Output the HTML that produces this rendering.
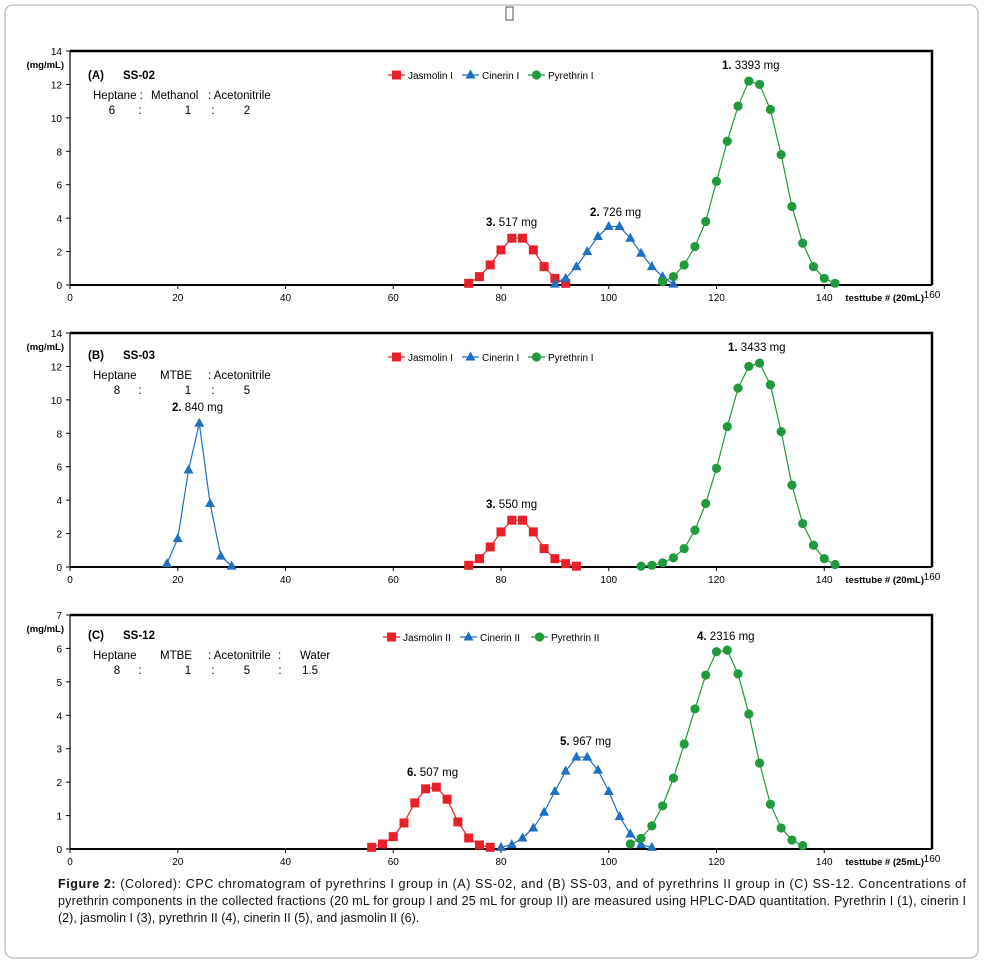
<!DOCTYPE html>
<html><head><meta charset="utf-8"><style>
body{margin:0;background:#fff;}
svg{display:block;font-family:"Liberation Sans",sans-serif;}
</style></head><body>
<svg id="fig" width="985" height="965" viewBox="0 0 985 965">
<rect x="5" y="5" width="973" height="953" rx="8" fill="#fff" stroke="#aaa"/>
<rect x="506" y="7" width="7" height="13" fill="none" stroke="#555"/>
<g id="plots"></g>
<g font-size="12.5" fill="#111">
<text x="58" y="888" textLength="908" lengthAdjust="spacing"><tspan font-weight="bold">Figure 2:</tspan> (Colored): CPC chromatogram of pyrethrins I group in (A) SS-02, and (B) SS-03, and of pyrethrins II group in (C) SS-12. Concentrations of</text>
<text x="58" y="905" textLength="908" lengthAdjust="spacing">pyrethrin components in the collected fractions (20 mL for group I and 25 mL for group II) are measured using HPLC-DAD quantitation. Pyrethrin I (1), cinerin I</text>
<text x="58" y="922">(2), jasmolin I (3), pyrethrin II (4), cinerin II (5), and jasmolin II (6).</text>
</g>
</svg>
<script>
const xTicks=[0,20,40,60,80,100,120,140];
const aJasX=[74,76,78,80,82,84,86,88,90,92];
const aJasY=[0.1,0.5,1.2,2.1,2.8,2.8,2.1,1.1,0.4,0.1];
const aCinX=[90,92,94,96,98,100,102,104,106,108,110,112];
const aCinY=[0.05,0.4,1.1,2.0,2.9,3.5,3.5,2.8,1.9,1.1,0.5,0.05];
const aPyrX=[110,112,114,116,118,120,122,124,126,128,130,132,134,136,138,140,142];
const aPyrY=[0.2,0.5,1.2,2.3,3.8,6.2,8.6,10.7,12.2,12.0,10.5,7.8,4.7,2.5,1.1,0.4,0.1];
const bJasX=[74,76,78,80,82,84,86,88,90,92,94];
const bJasY=[0.1,0.5,1.2,2.1,2.8,2.8,2.1,1.1,0.5,0.2,0.05];
const bCinX=[18,20,22,24,26,28,30];
const bCinY=[0.2,1.7,5.8,8.6,3.8,0.65,0.05];
const bPyrX=[106,108,110,112,114,116,118,120,122,124,126,128,130,132,134,136,138,140,142];
const bPyrY=[0.05,0.1,0.25,0.55,1.1,2.2,3.8,5.9,8.4,10.7,12.0,12.2,10.9,8.1,4.9,2.6,1.3,0.5,0.15];
const cJasX=[56,58,60,62,64,66,68,70,72,74,76,78];
const cJasY=[0.05,0.15,0.37,0.78,1.38,1.8,1.85,1.49,0.81,0.33,0.12,0.05];
const cCinX=[80,82,84,86,88,90,92,94,96,98,100,102,104,106,108];
const cCinY=[0.05,0.13,0.33,0.63,1.1,1.72,2.33,2.75,2.75,2.36,1.72,0.97,0.45,0.13,0.05];
const cPyrX=[104,106,108,110,112,114,116,118,120,122,124,126,128,130,132,134,136];
const cPyrY=[0.15,0.32,0.69,1.29,2.12,3.14,4.19,5.2,5.9,5.95,5.24,4.04,2.57,1.34,0.63,0.27,0.1];

const NS="http://www.w3.org/2000/svg";
const root=document.getElementById('plots');
const RED="#e8202a",BLUE="#1f70c0",GREEN="#1f9a3c";
function mk(tag,attrs,parent){const e=document.createElementNS(NS,tag);for(const k in attrs)e.setAttribute(k,attrs[k]);(parent||root).appendChild(e);return e;}
function txt(x,y,s,parent,extra){const t=mk('text',Object.assign({x:x,y:y},extra||{}),parent);t.textContent=s;return t;}
function marker(kind,cx,cy,color,g){
  let m;
  if(kind==='sq') m=mk('rect',{x:cx-4.5,y:cy-4.5,width:9,height:9,fill:color},g);
  else if(kind==='tri') m=mk('polygon',{points:(cx)+','+(cy-5.5)+' '+(cx-5)+','+(cy+3.5)+' '+(cx+5)+','+(cy+3.5),fill:color},g);
  else m=mk('circle',{cx:cx,cy:cy,r:4.6,fill:color},g);
  return m;
}
function panel(cfg){
  const g=mk('g',{});
  
  
  const X0=70,X1=932,Y0=cfg.y0,Y1=cfg.y1;
  const sx=v=>X0+(v/160)*(X1-X0);
  const sy=v=>Y0-(v/cfg.ymax)*(Y0-Y1);
  const frame=mk('path',{d:`M${X0},${Y1} L${X1},${Y1} L${X1},${Y0}`,fill:'none',stroke:'#000','stroke-width':2.5},g);
  
  
  const ax=mk('line',{x1:X0,y1:Y1,x2:X0,y2:Y0,stroke:'#000','stroke-width':1.2},g);
  
  
  const bx=mk('line',{x1:X0,y1:Y0,x2:X1,y2:Y0,stroke:'#000','stroke-width':2},g);
  
  
  for(const v of cfg.yTicks){
    mk('line',{x1:X0-4,x2:X0,y1:sy(v),y2:sy(v),stroke:'#000'},g);
    const t=txt(X0-8,sy(v)+4,String(v),g,{'font-size':10,'text-anchor':'end'});
    
    
  }
  for(const v of xTicks){
    mk('line',{x1:sx(v),x2:sx(v),y1:Y0,y2:Y0+4,stroke:'#000'},g);
    const t=txt(sx(v),Y0+16,String(v),g,{'font-size':10,'text-anchor':'middle'});
    
    
  }
  const t160=txt(932,Y0+13,'160',g,{'font-size':10,'text-anchor':'middle'});
  
  
  const xt=txt(924,Y0+16,cfg.xTitle,g,{'font-size':9.5,'font-weight':'bold','text-anchor':'end'});
  
  
  const yt=txt(64,Y1+17,'(mg/mL)',g,{'font-size':9.5,'font-weight':'bold','text-anchor':'end'});
  
  
  for(const s of cfg.series){
    const sg=mk('g',{},g);
    
    
    const pts=s.xs.map((x,i)=>sx(x)+','+sy(s.ys[i])).join(' ');
    mk('polyline',{points:pts,fill:'none',stroke:s.color,'stroke-width':1.2},sg);
    s.xs.forEach((x,i)=>{
      const m=marker(s.kind,sx(x),sy(s.ys[i]),s.color,sg);
      
      
    });
  }
  for(const l of cfg.legend){
    const lg=mk('g',{},g);
    
    
    mk('line',{x1:l.x,x2:l.x+17,y1:cfg.ly,y2:cfg.ly,stroke:l.color,'stroke-width':1.2},lg);
    marker(l.kind,l.x+8.5,cfg.ly,l.color,lg);
    txt(l.x+20,cfg.ly+4,l.label,lg,{'font-size':10});
  }
  for(const a of cfg.ann){
    const t=txt(a.x,a.y,'',g,{'font-size':11.5});
    
    
    const b=mk('tspan',{'font-weight':'bold'},t);b.textContent=a.n+' ';
    const r=mk('tspan',{},t);r.textContent=a.s;
  }
  const h=mk('g',{'font-size':11.5},g);
  
  
  txt(88,cfg.hy,cfg.tag,h,{'font-weight':'bold'});
  txt(123,cfg.hy,cfg.ss,h,{'font-weight':'bold'});
  for(const w of cfg.words) txt(w[0],cfg.hy+20,w[1],h);
  for(const w of cfg.ratios) txt(w[0],cfg.hy+35,w[1],h,{'text-anchor':'middle'});
}
const yT14=[0,2,4,6,8,10,12,14], yT7=[0,1,2,3,4,5,6,7];
panel({name:'panel-a-ss02',y0:285,y1:51,ymax:14,yTicks:yT14,xTitle:'testtube # (20mL)',
 series:[{name:'series-jasmolin-i',xs:aJasX,ys:aJasY,color:RED,kind:'sq'},{name:'series-cinerin-i',xs:aCinX,ys:aCinY,color:BLUE,kind:'tri'},{name:'series-pyrethrin-i',xs:aPyrX,ys:aPyrY,color:GREEN,kind:'ci'}],
 ly:75,legend:[{x:388,label:'Jasmolin I',color:RED,kind:'sq'},{x:462,label:'Cinerin I',color:BLUE,kind:'tri'},{x:528,label:'Pyrethrin I',color:GREEN,kind:'ci'}],
 ann:[{x:722,y:69,n:'1.',s:'3393 mg'},{x:590,y:216,n:'2.',s:'726 mg'},{x:486,y:226,n:'3.',s:'517 mg'}],
 hy:79,tag:'(A)',ss:'SS-02',words:[[93,'Heptane :'],[151,'Methanol'],[208,': Acetonitrile']],ratios:[[112,'6'],[140,':'],[188,'1'],[213,':'],[247,'2']]});
panel({name:'panel-b-ss03',y0:567,y1:333,ymax:14,yTicks:yT14,xTitle:'testtube # (20mL)',
 series:[{name:'series-jasmolin-i',xs:bJasX,ys:bJasY,color:RED,kind:'sq'},{name:'series-cinerin-i',xs:bCinX,ys:bCinY,color:BLUE,kind:'tri'},{name:'series-pyrethrin-i',xs:bPyrX,ys:bPyrY,color:GREEN,kind:'ci'}],
 ly:357,legend:[{x:388,label:'Jasmolin I',color:RED,kind:'sq'},{x:462,label:'Cinerin I',color:BLUE,kind:'tri'},{x:528,label:'Pyrethrin I',color:GREEN,kind:'ci'}],
 ann:[{x:728,y:351,n:'1.',s:'3433 mg'},{x:172,y:411,n:'2.',s:'840 mg'},{x:486,y:508,n:'3.',s:'550 mg'}],
 hy:359,tag:'(B)',ss:'SS-03',words:[[93,'Heptane'],[160,'MTBE'],[208,': Acetonitrile']],ratios:[[117,'8'],[140,':'],[188,'1'],[213,':'],[247,'5']]});
panel({name:'panel-c-ss12',y0:849,y1:615,ymax:7,yTicks:yT7,xTitle:'testtube # (25mL)',
 series:[{name:'series-jasmolin-ii',xs:cJasX,ys:cJasY,color:RED,kind:'sq'},{name:'series-cinerin-ii',xs:cCinX,ys:cCinY,color:BLUE,kind:'tri'},{name:'series-pyrethrin-ii',xs:cPyrX,ys:cPyrY,color:GREEN,kind:'ci'}],
 ly:637,legend:[{x:383,label:'Jasmolin II',color:RED,kind:'sq'},{x:460,label:'Cinerin II',color:BLUE,kind:'tri'},{x:531,label:'Pyrethrin II',color:GREEN,kind:'ci'}],
 ann:[{x:697,y:640,n:'4.',s:'2316 mg'},{x:560,y:745,n:'5.',s:'967 mg'},{x:407,y:776,n:'6.',s:'507 mg'}],
 hy:639,tag:'(C)',ss:'SS-12',words:[[93,'Heptane'],[160,'MTBE'],[208,': Acetonitrile'],[278,':'],[300,'Water']],ratios:[[117,'8'],[140,':'],[188,'1'],[213,':'],[247,'5'],[280,':'],[310,'1.5']]});
</script>
</body></html>
